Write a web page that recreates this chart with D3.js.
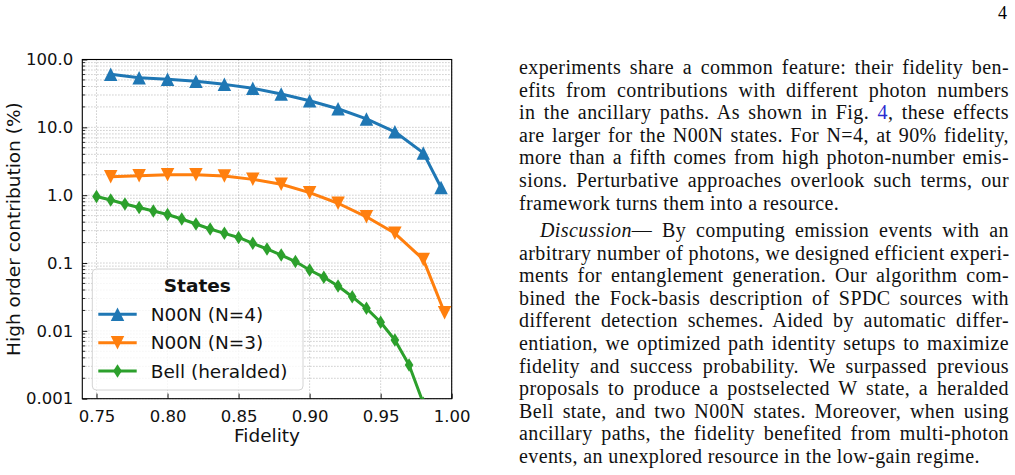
<!DOCTYPE html>
<html>
<head>
<meta charset="utf-8">
<script src="https://cdn.jsdelivr.net/npm/d3@7"></script>
<style>
  body { margin: 0; background: #fff; width: 1015px; height: 475px; overflow: hidden; position: relative; }
  svg { position: absolute; left: 0; top: 0; }
  .col { position: absolute; left: 519px; width: 490px; font-family: "Liberation Serif", serif; font-size: 20px; letter-spacing: 0.4px; color: #111; }
  .ln { height: 22.6px; line-height: 22.6px; white-space: nowrap; text-align: justify; text-align-last: justify; }
  .ln.last { text-align-last: left; }
  .pnum { position: absolute; left: 998px; top: 3px; font-family: "Liberation Serif", serif; font-size: 18px; }
  a { color: #2a2ad0; text-decoration: none; }
</style>
</head>
<body>
<div class="pnum">4</div>
<div id="chart"></div>
<div id="p1" class="col" style="top:56px"></div>
<div id="p2" class="col" style="top:219px"></div>
<script>
// data
const fidelityN4 = [0.76, 0.78, 0.80, 0.82, 0.84, 0.86, 0.88, 0.90, 0.92, 0.94, 0.96, 0.98, 0.9925]
const contribN4 = [60.5, 53.9, 51.1, 47.7, 43.0, 37.6, 31.0, 24.7, 18.8, 13.3, 8.6, 4.2, 1.3]

const fidelityN3 = [0.76, 0.78, 0.80, 0.82, 0.84, 0.86, 0.88, 0.90, 0.92, 0.94, 0.96, 0.98, 0.995]
const contribN3 = [1.87, 1.94, 2.00, 2.00, 1.92, 1.71, 1.45, 1.09, 0.76, 0.48, 0.274, 0.113, 0.0185]

const fidelityBell = [0.75, 0.76, 0.77, 0.78, 0.79, 0.80, 0.81, 0.82, 0.83, 0.84, 0.85, 0.86,
                      0.87, 0.88, 0.89, 0.90, 0.91, 0.92, 0.93, 0.94, 0.95, 0.96, 0.97, 0.98]
const contribBell = [0.956, 0.849, 0.741, 0.658, 0.585, 0.519, 0.445, 0.376, 0.317, 0.274, 0.238, 0.195,
                     0.161, 0.131, 0.105, 0.0788, 0.0615, 0.0458, 0.0318, 0.0215, 0.0134, 0.00733, 0.00314, 0.00086]

const seriesNames = ['N00N (N=4)', 'N00N (N=3)', 'Bell (heralded)']
const xTicks = [0.75, 0.80, 0.85, 0.90, 0.95, 1.00]
const yTicks = [0.001, 0.01, 0.1, 1, 10, 100]
const yTickLabels = ['0.001', '0.01', '0.1', '1.0', '10.0', '100.0']

const para1 = [
  'experiments share a common feature: their fidelity ben-',
  'efits from contributions with different photon numbers',
  'in the ancillary paths. As shown in Fig. <a>4</a>, these effects',
  'are larger for the N00N states. For N=4, at 90% fidelity,',
  'more than a fifth comes from high photon-number emis-',
  'sions. Perturbative approaches overlook such terms, our',
  'framework turns them into a resource.'
]
const para2 = [
  '<span style="padding-left:21px"><i>Discussion</i>\u2014</span> By computing emission events with an',
  'arbitrary number of photons, we designed efficient experi-',
  'ments for entanglement generation. Our algorithm com-',
  'bined the Fock-basis description of SPDC sources with',
  'different detection schemes. Aided by automatic differ-',
  'entiation, we optimized path identity setups to maximize',
  'fidelity and success probability. We surpassed previous',
  'proposals to produce a postselected W state, a heralded',
  'Bell state, and two N00N states. Moreover, when using',
  'ancillary paths, the fidelity benefited from multi-photon',
  'events, an unexplored resource in the low-gain regime.'
]

const colors = ['#1f77b4', '#ff7f0e', '#2ca02c']

let margin = {top: 59.5, left: 82.3}
let width = 369.4, height = 339.2

let svg = d3.select('#chart').append('svg')
    .attr('width', 1015)
    .attr('height', 475)
    .style('font-family', '"DejaVu Sans", sans-serif')

let g = svg.append('g')
    .attr('transform', 'translate(' + margin.left + ',' + margin.top + ')')

let x = d3.scaleLinear().domain([0.74, 1.0]).range([0, width])
let y = d3.scaleLog().domain([0.001, 100]).range([height, 0])

g.append('clipPath').attr('id', 'clip')
    .append('rect').attr('width', width).attr('height', height)

// grid: y major + minor, x major
let yMinor = []
yTicks.slice(0, -1).forEach(t => { for (let k = 2; k <= 9; k++) yMinor.push(t * k) })

let grid = g.append('g')
    .attr('stroke', '#b8b8b8')
    .attr('stroke-width', 0.9)
    .attr('stroke-dasharray', '1.2,1.8')
grid.selectAll('.ym').data(yTicks.concat(yMinor)).join('line')
    .attr('x1', 0).attr('x2', width)
    .attr('y1', d => y(d)).attr('y2', d => y(d))
grid.selectAll('.xm').data(xTicks).join('line')
    .attr('y1', 0).attr('y2', height)
    .attr('x1', d => x(d)).attr('x2', d => x(d))

// axes with inward ticks
let xAxis = g.append('g')
    .attr('transform', 'translate(0,' + height + ')')
    .call(d3.axisBottom(x).tickValues(xTicks).tickFormat(d3.format('.2f')).tickSizeInner(-5).tickSizeOuter(0).tickPadding(12))
let yAxis = g.append('g')
    .call(d3.axisLeft(y).tickValues(yTicks).tickFormat((d, i) => yTickLabels[i]).tickSizeInner(-5).tickSizeOuter(0).tickPadding(9))
g.append('g').selectAll('line').data(yMinor).join('line')
    .attr('x1', 0).attr('x2', 2.8)
    .attr('y1', d => y(d)).attr('y2', d => y(d))
    .attr('stroke', '#000').attr('stroke-width', 0.8)

;[xAxis, yAxis].forEach(a => {
    a.select('.domain').remove()
    a.selectAll('text').attr('font-size', 16.5).attr('fill', '#111').style('font-family', '"DejaVu Sans", sans-serif')
    a.selectAll('line').attr('stroke', '#000').attr('stroke-width', 0.9)
})

g.append('rect')
    .attr('width', width).attr('height', height)
    .attr('fill', 'none').attr('stroke', '#000').attr('stroke-width', 1.1)

// markers
const tri = (s) => 'M0,' + (-s / 2) + 'L' + (s / 2) + ',' + (s / 2) + 'L' + (-s / 2) + ',' + (s / 2) + 'Z'
const triDown = (s) => 'M0,' + (s / 2) + 'L' + (s / 2) + ',' + (-s / 2) + 'L' + (-s / 2) + ',' + (-s / 2) + 'Z'
const thinDiamond = (s) => 'M0,' + (-s / 2) + 'L' + (s * 0.32) + ',0L0,' + (s / 2) + 'L' + (-s * 0.32) + ',0Z'
const markers = [tri(13.5), triDown(13.5), thinDiamond(13.5)]

let series = [
    fidelityN4.map((f, i) => ({f: f, v: contribN4[i]})),
    fidelityN3.map((f, i) => ({f: f, v: contribN3[i]})),
    fidelityBell.map((f, i) => ({f: f, v: contribBell[i]}))
]

let line = d3.line().x(d => x(d.f)).y(d => y(d.v))
let plot = g.append('g').attr('clip-path', 'url(#clip)')

series.forEach((s, i) => {
    plot.append('path')
        .datum(s)
        .attr('d', line)
        .attr('fill', 'none')
        .attr('stroke', colors[i])
        .attr('stroke-width', 3)
        .attr('stroke-linejoin', 'round')
    plot.selectAll('.m' + i).data(s).join('path')
        .attr('transform', d => 'translate(' + x(d.f) + ',' + y(d.v) + ')')
        .attr('d', markers[i])
        .attr('fill', colors[i])
})

// legend
let leg = svg.append('g').attr('transform', 'translate(92.3,269)')
leg.append('rect')
    .attr('width', 210.7).attr('height', 121)
    .attr('rx', 4)
    .attr('fill', 'white').attr('fill-opacity', 0.8)
    .attr('stroke', '#d4d4d4').attr('stroke-width', 1)
leg.append('text')
    .attr('x', 105).attr('y', 23)
    .attr('text-anchor', 'middle')
    .attr('font-size', 18.5).attr('font-weight', 'bold')
    .attr('fill', '#111')
    .text('States')
seriesNames.forEach((name, i) => {
    let ly = 45.3 + i * 28.4
    leg.append('line')
        .attr('x1', 6).attr('x2', 44.4)
        .attr('y1', ly).attr('y2', ly)
        .attr('stroke', colors[i]).attr('stroke-width', 3)
    leg.append('path')
        .attr('transform', 'translate(25.2,' + ly + ')')
        .attr('d', markers[i])
        .attr('fill', colors[i])
    leg.append('text')
        .attr('x', 58.4).attr('y', ly)
        .attr('dy', '0.36em')
        .attr('font-size', 18.5)
        .attr('fill', '#111')
        .text(name)
})

// axis titles
svg.append('text')
    .attr('x', margin.left + width / 2).attr('y', 442)
    .attr('text-anchor', 'middle')
    .attr('font-size', 18.5).attr('fill', '#111')
    .text('Fidelity')
svg.append('text')
    .attr('transform', 'translate(20,' + (margin.top + height / 2) + ') rotate(-90)')
    .attr('text-anchor', 'middle')
    .attr('font-size', 18.5).attr('fill', '#111')
    .text('High order contribution (%)')

// text column
d3.select('#p1').selectAll('div').data(para1).join('div')
    .attr('class', (d, i) => i === para1.length - 1 ? 'ln last' : 'ln')
    .html(d => d)
d3.select('#p2').selectAll('div').data(para2).join('div')
    .attr('class', (d, i) => i === para2.length - 1 ? 'ln last' : 'ln')
    .html(d => d)
</script>
</body>
</html>
